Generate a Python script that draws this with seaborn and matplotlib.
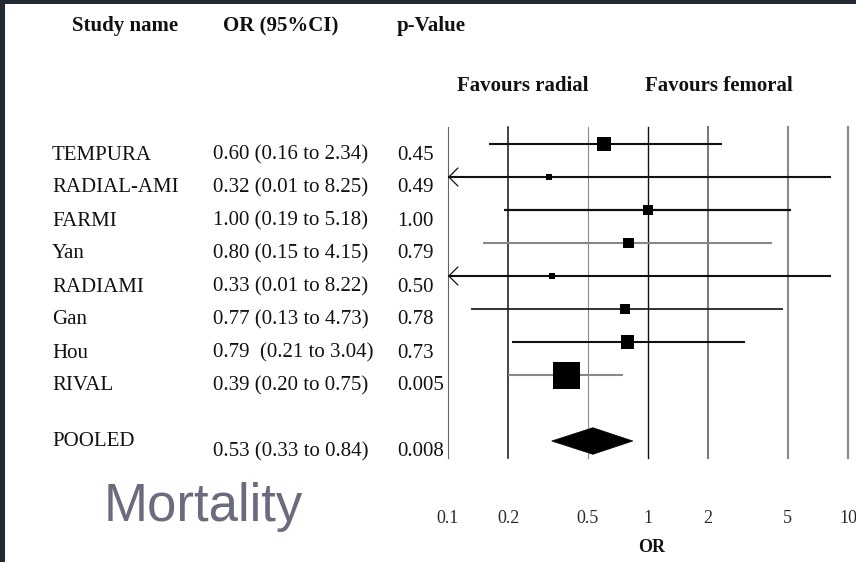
import numpy as np
import pandas as pd
import matplotlib
matplotlib.use("Agg")
import matplotlib.pyplot as plt
import matplotlib.transforms as mtransforms
from matplotlib.patches import Rectangle, Polygon
from matplotlib.ticker import NullLocator
import seaborn as sns

# ---------------- data ----------------
studies = ["TEMPURA", "RADIAL-AMI", "FARMI", "Yan", "RADIAMI", "Gan", "Hou", "RIVAL"]
or_est = [0.60, 0.32, 1.00, 0.80, 0.33, 0.77, 0.79, 0.39]
ci_low = [0.16, 0.01, 0.19, 0.15, 0.01, 0.13, 0.21, 0.20]
ci_high = [2.34, 8.25, 5.18, 4.15, 8.22, 4.73, 3.04, 0.75]
or_text = ["0.60 (0.16 to 2.34)", "0.32 (0.01 to 8.25)", "1.00 (0.19 to 5.18)",
           "0.80 (0.15 to 4.15)", "0.33 (0.01 to 8.22)", "0.77 (0.13 to 4.73)",
           "0.79  (0.21 to 3.04)", "0.39 (0.20 to 0.75)"]
p_text = ["0.45", "0.49", "1.00", "0.79", "0.50", "0.78", "0.73", "0.005"]
weights = [13.0, 2.4, 8.0, 8.0, 2.4, 6.6, 11.2, 48.3]

pooled_label = "POOLED"
pooled_est, pooled_low, pooled_high = 0.53, 0.33, 0.84
pooled_or_text = "0.53 (0.33 to 0.84)"
pooled_p_text = "0.008"

tick_values = [0.1, 0.2, 0.5, 1, 2, 5, 10]
tick_labels = ["0.1", "0.2", "0.5", "1", "2", "5", "10"]

headers = ["Study name", "OR (95%CI)", "p-Value"]
favours = ["Favours radial", "Favours femoral"]
x_label = "OR"
title_text = "Mortality"

# ---------------- figure ----------------
W, H = 856, 562
DPI = 100
fig = plt.figure(figsize=(W / DPI, H / DPI), dpi=DPI, facecolor="white")
SERIF = "Liberation Serif"
plt.rcParams["font.family"] = [SERIF, "DejaVu Serif"]


def fx(px):
    return px / W


def fy(py):
    return 1 - py / H


# dark frame on top and left
fig.add_artist(Rectangle((0, fy(4)), 1, 4 / H, transform=fig.transFigure,
                         facecolor="#232a33", edgecolor="none", zorder=10))
fig.add_artist(Rectangle((0, 0), 5 / W, 1, transform=fig.transFigure,
                         facecolor="#232a33", edgecolor="none", zorder=10))

ax_top, ax_bot = 127.0, 457.5
ax_left, ax_right = 448.0, 848.0
ax = fig.add_axes([fx(ax_left), fy(ax_bot), (ax_right - ax_left) / W, (ax_bot - ax_top) / H])
ax.set_facecolor("none")
ax.set_xscale("log")
ax.set_xlim(tick_values[0], tick_values[-1])

n = len(studies)
rows = np.arange(n, dtype=float)
pooled_row = n + 1.0
row_px = 33.0
ax.set_ylim(pooled_row + (ax_bot - 441.0) / row_px, -(144.0 - ax_top) / row_px)

for s in ax.spines.values():
    s.set_visible(False)
ax.set_yticks([])
ax.set_xticks(tick_values)
ax.set_xticklabels(tick_labels)
ax.xaxis.set_minor_locator(NullLocator())
ax.tick_params(axis="x", which="both", length=0, pad=38, labelsize=13,
               labelcolor="#2a2a2a")
for lab in ax.get_xticklabels():
    lab.set_fontfamily(SERIF)

# vertical reference lines
grid_style = [("#666666", 0.8), ("#111111", 1.1), ("#8a8a8a", 0.8), ("#111111", 1.0),
              ("#7a7a7a", 1.5), ("#8a8a8a", 1.5), ("#8a8a8a", 1.6)]
for v, (c, lw) in zip(tick_values, grid_style):
    ax.axvline(v, ymin=0, ymax=1, color=c, lw=lw, clip_on=False, zorder=1)

# confidence intervals
ci_colors = ["#111111", "#111111", "#111111", "#888888", "#111111", "#222222",
             "#111111", "#888888"]
ci_lw = [1.5, 1.5, 1.6, 1.5, 1.5, 1.3, 1.5, 1.5]
xmin = tick_values[0]
for r, lo, hi, c, lw in zip(rows, ci_low, ci_high, ci_colors, ci_lw):
    ax.hlines(r, max(lo, xmin), hi, colors=c, lw=lw, zorder=2, clip_on=False)
    if lo < xmin:
        ax.annotate("", xy=(xmin, r), xytext=(xmin * 1.12, r),
                    arrowprops=dict(arrowstyle="->,head_length=0.65,head_width=0.65",
                                    lw=0.9, color=c, shrinkA=0, shrinkB=0,
                                    mutation_scale=10), zorder=2)

# study squares (area proportional to weight)
df = pd.DataFrame({"or": or_est, "row": rows, "weight": weights})
side_max_pt = 27 * 72 / DPI
sns.scatterplot(data=df, x="or", y="row", size="weight",
                sizes=(0, side_max_pt ** 2), size_norm=(0, max(weights)),
                marker="s", color="black", linewidth=0, legend=False, ax=ax, zorder=3)
ax.set_ylabel("")

# pooled diamond
dh = 13.3 / row_px
diamond = Polygon([(pooled_low, pooled_row), (pooled_est, pooled_row - dh),
                   (pooled_high, pooled_row), (pooled_est, pooled_row + dh)],
                  closed=True, facecolor="black", edgecolor="black", lw=0.5, zorder=3)
ax.add_patch(diamond)

# x label
ax.set_xlabel(x_label, fontsize=13, fontweight="bold", fontfamily=SERIF, color="#111111")
ax.xaxis.set_label_coords((652 - ax_left) / (ax_right - ax_left),
                          -(548 - ax_bot) / (ax_bot - ax_top))
ax.xaxis.label.set_va("center")


# table text tied to the axes rows (baseline offset in pixels below the row)
def row_trans(dy_px):
    base = mtransforms.blended_transform_factory(fig.transFigure, ax.transData)
    return mtransforms.offset_copy(base, fig=fig, x=0, y=-dy_px * 72 / DPI, units="points")


txt_kw = dict(fontsize=15, color="#111111", va="baseline", fontfamily=SERIF)
t_row = row_trans(15.5)
for r, name, ot, pt in zip(rows, studies, or_text, p_text):
    fig.text(fx(52), r, name, transform=t_row, **txt_kw)
    fig.text(fx(213), r, ot, transform=t_row, **txt_kw)
    fig.text(fx(397), r, pt, transform=t_row, **txt_kw)
fig.text(fx(52), pooled_row, pooled_label, transform=row_trans(5.5), **txt_kw)
fig.text(fx(213), pooled_row, pooled_or_text, transform=t_row, **txt_kw)
fig.text(fx(397), pooled_row, pooled_p_text, transform=t_row, **txt_kw)

# headers
hdr_kw = dict(fontsize=15, fontweight="bold", color="#111111", va="baseline",
              fontfamily=SERIF)
fig.text(fx(125), fy(31.5), headers[0], ha="center", **hdr_kw)
fig.text(fx(281), fy(31.5), headers[1], ha="center", **hdr_kw)
fig.text(fx(397), fy(31.5), headers[2], ha="left", **hdr_kw)
fig.text(fx(523), fy(91), favours[0], ha="center", **hdr_kw)
fig.text(fx(719), fy(91), favours[1], ha="center", **hdr_kw)

# big title
fig.text(fx(104), fy(507), title_text, fontsize=38, color="#6b6b7f", va="center",
         ha="left", fontfamily=["Liberation Sans", "DejaVu Sans"])

fig.savefig("out.png", dpi=DPI, facecolor="white")
